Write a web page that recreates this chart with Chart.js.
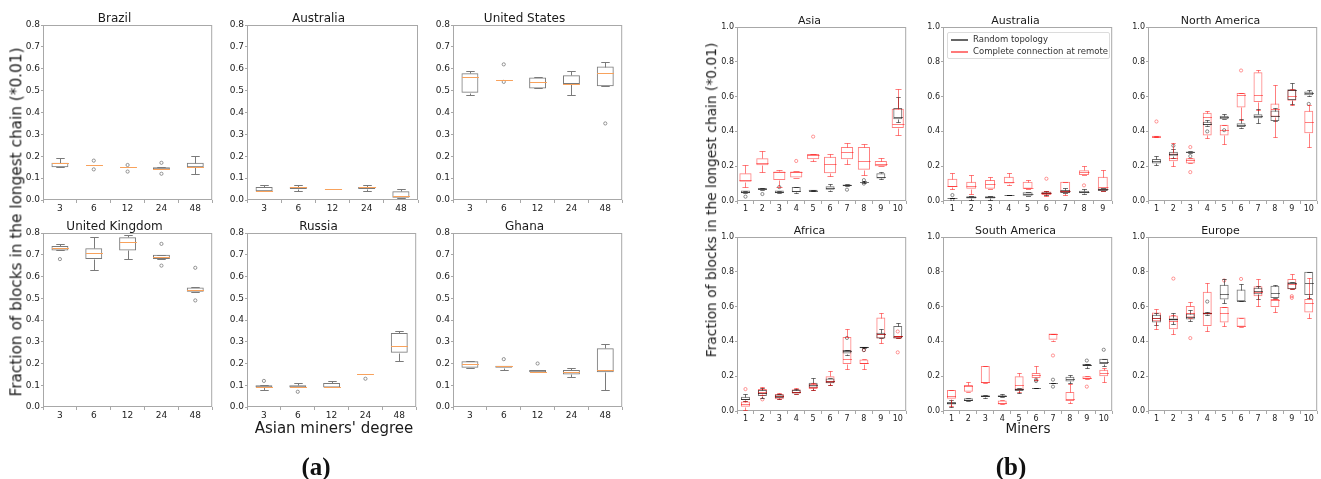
<!DOCTYPE html>
<html>
<head>
<meta charset="utf-8">
<script src="https://cdn.jsdelivr.net/npm/chart.js@4.4.1/dist/chart.umd.min.js"></script>
<style>
  html, body { margin: 0; padding: 0; background: #fff; }
  body { width: 1321px; height: 479px; position: relative; overflow: hidden; font-family: 'DejaVu Sans', sans-serif; color: #1a1a1a; }
  canvas { position: absolute; }
  .lbl { position: absolute; white-space: nowrap; line-height: 1; transform: translate(-50%, -50%); }
  .ylbl { transform: translate(-50%, -50%) rotate(-90deg); }
  .tag { font-family: 'Liberation Serif', serif; font-weight: bold; font-size: 25px; color: #111; }
  #legend { position: absolute; left: 947px; top: 32px; width: 161px; height: 25px; border: 1px solid #dcdcdc; border-radius: 2px; background: rgba(255,255,255,0.85); font-size: 8.5px; color: #333; }
  #legend div { position: absolute; left: 25px; line-height: 1; }
  #legend span { position: absolute; left: 3px; width: 17px; height: 1.5px; }
</style>
</head>
<body>

<div class="lbl ylbl" style="left:17px; top:222px; font-size:15.3px;">Fraction of blocks in the longest chain (*0.01)</div>
<div class="lbl" style="left:334px; top:428px; font-size:15px;">Asian miners' degree</div>
<div class="lbl tag" style="left:316px; top:466px;">(a)</div>

<div class="lbl ylbl" style="left:712px; top:200px; font-size:13.8px;">Fraction of blocks in the longest chain (*0.01)</div>
<div class="lbl" style="left:1028px; top:429px; font-size:13.5px;">Miners</div>
<div class="lbl tag" style="left:1011px; top:466px;">(b)</div>

<div id="legend">
  <span style="top:6px; background:#666;"></span><div style="top:2px;">Random topology</div>
  <span style="top:18px; background:#ff7a7a;"></span><div style="top:14px;">Complete connection at remote</div>
</div>

<script>
// Box statistics are [min, q1, median, q3, max]; outliers are [category, value].

// (a) longest-chain share by Asian miners' degree
const degreeLabels = ['3', '6', '12', '24', '48'];
const yTicksA = [0, 0.1, 0.2, 0.3, 0.4, 0.5, 0.6, 0.7, 0.8];

const brazilBox = [[0.15,0.15,0.17,0.17,0.19],[0.16,0.16,0.16,0.16,0.16],[0.15,0.15,0.15,0.15,0.15],[0.14,0.14,0.14,0.15,0.15],[0.12,0.15,0.15,0.17,0.20]];
const brazilOut = [['6',0.18],['6',0.14],['12',0.16],['12',0.13],['24',0.17],['24',0.12]];
const australiaBox = [[0.04,0.04,0.04,0.06,0.07],[0.04,0.05,0.06,0.06,0.07],[0.05,0.05,0.05,0.05,0.05],[0.04,0.05,0.06,0.06,0.07],[0.01,0.01,0.02,0.04,0.05]];
const australiaOut = [];
const usBox = [[0.48,0.49,0.56,0.58,0.59],[0.55,0.55,0.55,0.55,0.55],[0.51,0.51,0.54,0.56,0.56],[0.48,0.53,0.53,0.57,0.59],[0.52,0.52,0.58,0.61,0.63]];
const usOut = [['6',0.62],['6',0.54],['48',0.35]];
const ukBox = [[0.72,0.72,0.73,0.74,0.75],[0.63,0.68,0.71,0.73,0.78],[0.68,0.72,0.76,0.78,0.79],[0.68,0.68,0.69,0.70,0.70],[0.53,0.53,0.54,0.55,0.55]];
const ukOut = [['3',0.68],['24',0.75],['24',0.65],['48',0.64],['48',0.49]];
const russiaBox = [[0.08,0.09,0.09,0.10,0.10],[0.09,0.09,0.09,0.10,0.11],[0.09,0.09,0.09,0.11,0.12],[0.15,0.15,0.15,0.15,0.15],[0.21,0.25,0.28,0.34,0.35]];
const russiaOut = [['3',0.12],['6',0.07],['24',0.13]];
const ghanaBox = [[0.18,0.18,0.20,0.21,0.21],[0.17,0.18,0.19,0.19,0.19],[0.16,0.16,0.16,0.17,0.17],[0.14,0.15,0.16,0.17,0.18],[0.08,0.16,0.17,0.27,0.29]];
const ghanaOut = [['6',0.22],['12',0.20]];

// (b) random topology vs complete connection at remote, by number of miners
const minerLabels = ['1','2','3','4','5','6','7','8','9','10'];
const minerLabels9 = ['1','2','3','4','5','6','7','8','9'];
const yTicksB = [0, 0.2, 0.4, 0.6, 0.8, 1.0];

const asiaRandom = [[0.045,0.045,0.05,0.06,0.06],[0.065,0.065,0.07,0.075,0.075],[0.045,0.045,0.05,0.06,0.06],[0.045,0.05,0.06,0.08,0.08],[0.055,0.055,0.06,0.065,0.065],[0.055,0.065,0.075,0.085,0.095],[0.085,0.085,0.09,0.095,0.095],[0.105,0.11,0.11,0.11,0.115],[0.125,0.13,0.14,0.16,0.165],[0.455,0.47,0.48,0.535,0.60]];
const asiaRandomOut = [['1',0.025],['2',0.04],['3',0.08],['7',0.065],['8',0.12],['8',0.10]];
const asiaRemote = [[0.08,0.11,0.12,0.16,0.205],[0.165,0.205,0.22,0.245,0.285],[0.08,0.12,0.165,0.17,0.18],[0.135,0.135,0.165,0.17,0.17],[0.23,0.24,0.265,0.27,0.27],[0.145,0.16,0.215,0.255,0.27],[0.215,0.24,0.28,0.31,0.335],[0.15,0.18,0.23,0.31,0.325],[0.2,0.2,0.21,0.23,0.245],[0.38,0.42,0.44,0.53,0.645]];
const asiaRemoteOut = [['4',0.23],['5',0.37]];

const oceaniaRandom = [[0.018,0.018,0.018,0.018,0.018],[0.006,0.015,0.022,0.028,0.028],[0.006,0.015,0.022,0.028,0.028],[0.032,0.032,0.032,0.032,0.032],[0.03,0.03,0.04,0.05,0.05],[0.032,0.04,0.046,0.051,0.058],[0.046,0.046,0.055,0.063,0.072],[0.04,0.044,0.053,0.059,0.07],[0.057,0.057,0.067,0.072,0.072]];
const oceaniaRandomOut = [['1',0.034],['1',0.006]];
const oceaniaRemote = [[0.067,0.08,0.085,0.128,0.16],[0.04,0.07,0.085,0.11,0.15],[0.07,0.07,0.1,0.12,0.14],[0.09,0.1,0.107,0.14,0.16],[0.07,0.07,0.075,0.11,0.12],[0.028,0.035,0.045,0.055,0.055],[0.032,0.048,0.06,0.11,0.11],[0.15,0.15,0.165,0.177,0.2],[0.057,0.06,0.08,0.14,0.177]];
const oceaniaRemoteOut = [['6',0.128],['8',0.09]];

const northAmericaRandom = [[0.206,0.216,0.229,0.241,0.258],[0.25,0.26,0.27,0.283,0.30],[0.275,0.277,0.28,0.285,0.285],[0.43,0.435,0.445,0.456,0.466],[0.47,0.47,0.48,0.49,0.50],[0.417,0.426,0.438,0.447,0.472],[0.446,0.476,0.488,0.499,0.53],[0.459,0.46,0.49,0.52,0.535],[0.56,0.58,0.64,0.642,0.68],[0.605,0.608,0.62,0.629,0.64]];
const northAmericaRandomOut = [['2',0.318],['3',0.258],['4',0.40],['5',0.407],['10',0.558]];
const northAmericaRemote = [[0.365,0.365,0.37,0.375,0.375],[0.2,0.228,0.25,0.273,0.336],[0.216,0.216,0.235,0.245,0.245],[0.363,0.377,0.484,0.507,0.52],[0.325,0.377,0.41,0.438,0.438],[0.466,0.538,0.61,0.62,0.62],[0.523,0.569,0.609,0.74,0.753],[0.365,0.484,0.526,0.56,0.669],[0.55,0.576,0.603,0.64,0.645],[0.309,0.389,0.456,0.519,0.55]];
const northAmericaRemoteOut = [['1',0.457],['3',0.31],['3',0.166],['6',0.75]];

const africaRandom = [[0.055,0.063,0.071,0.082,0.096],[0.073,0.086,0.105,0.12,0.13],[0.07,0.075,0.085,0.095,0.1],[0.098,0.1,0.11,0.12,0.125],[0.12,0.134,0.149,0.163,0.187],[0.15,0.159,0.174,0.187,0.19],[0.32,0.33,0.345,0.35,0.35],[0.36,0.36,0.365,0.369,0.369],[0.417,0.417,0.445,0.449,0.47],[0.417,0.417,0.43,0.488,0.507]];
const africaRandomOut = [['7',0.42],['8',0.35]];
const africaRemote = [[0.006,0.025,0.042,0.054,0.06],[0.09,0.096,0.111,0.126,0.136],[0.067,0.067,0.086,0.098,0.105],[0.098,0.1,0.11,0.125,0.13],[0.12,0.126,0.14,0.155,0.16],[0.147,0.159,0.174,0.199,0.228],[0.239,0.27,0.298,0.426,0.47],[0.239,0.27,0.275,0.296,0.296],[0.388,0.417,0.445,0.537,0.566],[0.417,0.417,0.43,0.43,0.43]];
const africaRemoteOut = [['1',0.126],['2',0.067],['8',0.35],['10',0.457],['10',0.337]];

const southAmericaRandom = [[0.023,0.038,0.046,0.052,0.063],[0.057,0.057,0.065,0.073,0.073],[0.073,0.08,0.085,0.09,0.09],[0.08,0.08,0.085,0.09,0.1],[0.101,0.115,0.124,0.13,0.13],[0.13,0.13,0.13,0.13,0.13],[0.16,0.16,0.16,0.16,0.16],[0.163,0.17,0.185,0.197,0.206],[0.245,0.258,0.265,0.27,0.27],[0.258,0.27,0.283,0.3,0.3]];
const southAmericaRandomOut = [['6',0.18],['6',0.172],['7',0.18],['7',0.14],['9',0.29],['10',0.352]];
const southAmericaRemote = [[0.029,0.071,0.086,0.12,0.12],[0.111,0.111,0.145,0.149,0.168],[0.16,0.16,0.165,0.258,0.258],[0.038,0.038,0.045,0.061,0.061],[0.109,0.12,0.15,0.2,0.218],[0.176,0.19,0.205,0.218,0.258],[0.405,0.409,0.44,0.445,0.445],[0.048,0.057,0.067,0.109,0.153],[0.182,0.182,0.19,0.2,0.2],[0.168,0.2,0.22,0.237,0.25]];
const southAmericaRemoteOut = [['7',0.319],['9',0.14]];

const europeRandom = [[0.495,0.509,0.537,0.553,0.566],[0.5,0.52,0.526,0.532,0.564],[0.52,0.526,0.541,0.56,0.579],[0.549,0.555,0.564,0.566,0.57],[0.618,0.641,0.67,0.725,0.761],[0.631,0.631,0.635,0.698,0.728],[0.641,0.671,0.69,0.709,0.72],[0.65,0.65,0.68,0.72,0.725],[0.7,0.7,0.735,0.74,0.74],[0.652,0.667,0.738,0.8,0.8]];
const europeRandomOut = [['4',0.629]];
const europeRemote = [[0.47,0.516,0.537,0.566,0.589],[0.44,0.47,0.516,0.549,0.55],[0.537,0.537,0.564,0.604,0.629],[0.459,0.488,0.564,0.686,0.738],[0.488,0.509,0.566,0.598,0.6],[0.484,0.484,0.49,0.537,0.537],[0.602,0.66,0.684,0.717,0.761],[0.568,0.598,0.64,0.644,0.644],[0.7,0.7,0.728,0.759,0.79],[0.537,0.566,0.618,0.644,0.767]];
const europeRemoteOut = [['2',0.761],['3',0.419],['5',0.75],['6',0.759],['9',0.66],['9',0.65]];

// colours
const BOX_A = '#7a7a7a';
const MEDIAN_A = '#f8a25c';
const RANDOM = 'rgba(0,0,0,0.55)';
const REMOTE = 'rgba(255,0,0,0.5)';
const SPINE = '#a8a8a8';

Chart.defaults.font.family = "'DejaVu Sans', sans-serif";
Chart.defaults.color = '#222';

const TITLE_H = 22, X_H = 18, PAD_R = 3;

// whiskers, caps and medians for each box series
function whiskerPlugin(series) {
    return {
        id: 'whiskers',
        afterDatasetsDraw(chart) {
            const { ctx, scales: { x, y } } = chart;
            const step = x.getPixelForValue(1) - x.getPixelForValue(0);
            const snap = v => Math.round(y.getPixelForValue(v)) + 0.5;
            ctx.save();
            ctx.lineWidth = 1;
            series.forEach(s => {
                const w = step * s.width;
                s.box.forEach((b, i) => {
                    const cx = Math.round(x.getPixelForValue(i)) + 0.5;
                    const [lo, q1, med, q3, hi] = b.map(snap);
                    ctx.strokeStyle = s.color;
                    ctx.beginPath();
                    if (hi < q3) { ctx.moveTo(cx, q3); ctx.lineTo(cx, hi); }
                    if (lo > q1) { ctx.moveTo(cx, q1); ctx.lineTo(cx, lo); }
                    ctx.moveTo(cx - w / 4, hi); ctx.lineTo(cx + w / 4, hi);
                    ctx.moveTo(cx - w / 4, lo); ctx.lineTo(cx + w / 4, lo);
                    ctx.stroke();
                    ctx.strokeStyle = s.median || s.color;
                    ctx.beginPath();
                    ctx.moveTo(cx - w / 2, med); ctx.lineTo(cx + w / 2, med);
                    ctx.stroke();
                });
            });
            ctx.restore();
        }
    };
}

// four-sided axes frame
const framePlugin = {
    id: 'frame',
    beforeDatasetsDraw(chart) {
        const { ctx, chartArea: a } = chart;
        ctx.save();
        ctx.strokeStyle = SPINE;
        ctx.lineWidth = 1;
        ctx.strokeRect(a.left + 0.5, a.top + 0.5, a.right - a.left - 1, a.bottom - a.top - 1);
        ctx.restore();
    }
};

function makePanel(p) {
    const cv = document.createElement('canvas');
    cv.width = p.w + p.yw + PAD_R;
    cv.height = p.h + TITLE_H + X_H;
    cv.style.left = (p.l - p.yw) + 'px';
    cv.style.top = (p.t - TITLE_H) + 'px';
    document.body.insertBefore(cv, document.body.firstChild);

    const datasets = [];
    p.series.forEach(s => datasets.push({
        type: 'bar',
        data: s.box.map(b => [b[1], b[3]]),
        backgroundColor: 'transparent',
        borderColor: s.color,
        borderWidth: 1,
        borderSkipped: false,
        barPercentage: s.width,
        categoryPercentage: 1,
        grouped: false
    }));
    p.series.forEach(s => datasets.push({
        type: 'line',
        data: s.out.map(o => ({ x: o[0], y: o[1] })),
        showLine: false,
        pointRadius: 1.6,
        pointBorderWidth: 0.8,
        pointBorderColor: s.color,
        pointBackgroundColor: 'transparent'
    }));

    new Chart(cv, {
        type: 'bar',
        data: { labels: p.labels, datasets },
        options: {
            responsive: false,
            animation: false,
            devicePixelRatio: 1,
            events: [],
            layout: { padding: { right: PAD_R } },
            plugins: {
                legend: { display: false },
                tooltip: { enabled: false },
                title: {
                    display: true,
                    text: p.title,
                    color: '#1a1a1a',
                    font: { size: p.titleSize, weight: 'normal', lineHeight: 1 },
                    padding: { top: TITLE_H - p.titleSize, bottom: 0 }
                }
            },
            scales: {
                x: {
                    type: 'category',
                    offset: true,
                    grid: { display: true, drawOnChartArea: false, drawTicks: true, tickLength: 3, color: SPINE },
                    border: { display: false },
                    ticks: { autoSkip: false, maxRotation: 0, padding: 0, font: { size: p.tickSize } },
                    afterFit: sc => { sc.height = X_H; }
                },
                y: {
                    min: 0,
                    max: p.ticks[p.ticks.length - 1],
                    afterBuildTicks: sc => { sc.ticks = p.ticks.map(v => ({ value: v })); },
                    grid: { display: true, drawOnChartArea: false, drawTicks: true, tickLength: 2, color: SPINE },
                    border: { display: false },
                    ticks: { padding: 1, font: { size: p.tickSize }, callback: v => v.toFixed(1) },
                    afterFit: sc => { sc.width = p.yw; }
                }
            }
        },
        plugins: [framePlugin, whiskerPlugin(p.series)]
    });
}

function degreePanel(title, l, t, h, box, out) {
    return {
        title, l, t, w: 171, h, yw: 28, titleSize: 12, tickSize: 9,
        labels: degreeLabels, ticks: yTicksA,
        series: [{ box, out, color: BOX_A, median: MEDIAN_A, width: 0.5 }]
    };
}

function minerPanel(title, l, t, labels, random, randomOut, remote, remoteOut, remoteWidth) {
    return {
        title, l, t, w: 171, h: 174, yw: 26, titleSize: 11, tickSize: 8,
        labels, ticks: yTicksB,
        series: [
            { box: random, out: randomOut, color: RANDOM, width: 0.53 },
            { box: remote, out: remoteOut, color: REMOTE, width: remoteWidth || 0.53 }
        ]
    };
}

[
    degreePanel('Brazil', 43, 25, 175, brazilBox, brazilOut),
    degreePanel('Australia', 247, 25, 175, australiaBox, australiaOut),
    degreePanel('United States', 453, 25, 175, usBox, usOut),
    degreePanel('United Kingdom', 43, 233, 174, ukBox, ukOut),
    degreePanel('Russia', 247, 233, 174, russiaBox, russiaOut),
    degreePanel('Ghana', 453, 233, 174, ghanaBox, ghanaOut),
    minerPanel('Asia', 737, 27, minerLabels, asiaRandom, asiaRandomOut, asiaRemote, asiaRemoteOut, 0.72),
    minerPanel('Australia', 943, 27, minerLabels9, oceaniaRandom, oceaniaRandomOut, oceaniaRemote, oceaniaRemoteOut),
    minerPanel('North America', 1148, 27, minerLabels, northAmericaRandom, northAmericaRandomOut, northAmericaRemote, northAmericaRemoteOut),
    minerPanel('Africa', 737, 237, minerLabels, africaRandom, africaRandomOut, africaRemote, africaRemoteOut),
    minerPanel('South America', 943, 237, minerLabels, southAmericaRandom, southAmericaRandomOut, southAmericaRemote, southAmericaRemoteOut),
    minerPanel('Europe', 1148, 237, minerLabels, europeRandom, europeRandomOut, europeRemote, europeRemoteOut)
].forEach(makePanel);
</script>
</body>
</html>
